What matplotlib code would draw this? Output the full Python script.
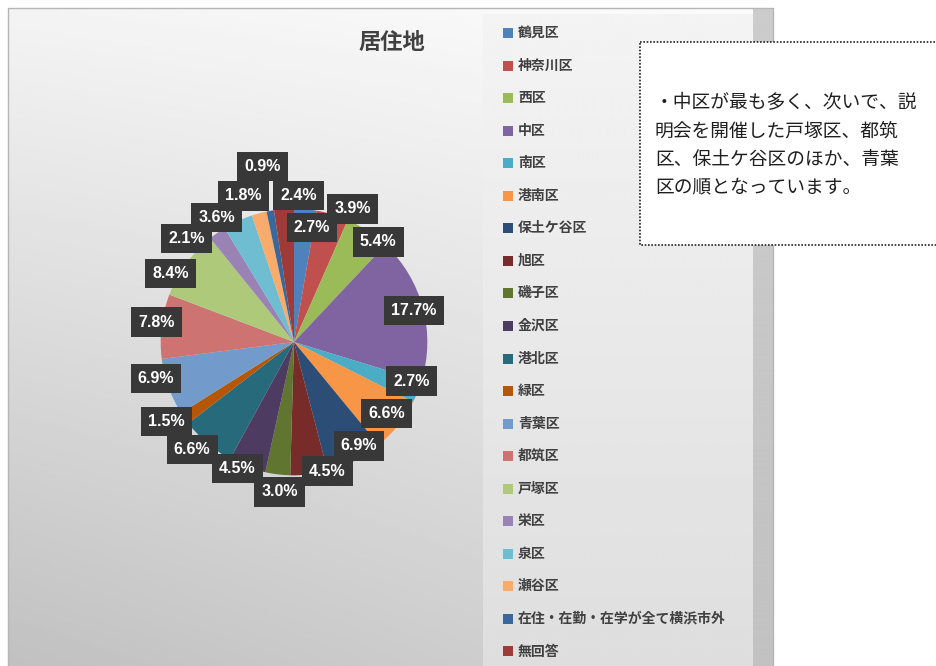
import matplotlib
matplotlib.use("Agg")
import matplotlib.pyplot as plt
import numpy as np
from matplotlib.patches import Rectangle

plt.rcParams['font.family'] = ['Noto Sans CJK JP', 'DejaVu Sans']

# 居住地の内訳 (%)
districts = ["鶴見区", "神奈川区", "西区", "中区", "南区", "港南区", "保土ケ谷区",
             "旭区", "磯子区", "金沢区", "港北区", "緑区", "青葉区", "都筑区",
             "戸塚区", "栄区", "泉区", "瀬谷区", "在住・在勤・在学が全て横浜市外", "無回答"]
shares = [2.7, 3.9, 5.4, 17.7, 2.7, 6.6, 6.9, 4.5, 3.0, 4.5,
          6.6, 1.5, 6.9, 7.8, 8.4, 2.1, 3.6, 1.8, 0.9, 2.4]
colors = ["#4F81BD", "#C0504D", "#9BBB59", "#8064A2", "#4BACC6", "#F79646",
          "#2C4D75", "#772C2A", "#5F7530", "#4D3B62", "#276A7C", "#B65708",
          "#729ACA", "#CD7371", "#AFC97A", "#9983B5", "#6FBDD1", "#F9AB6B",
          "#3A679C", "#9E3A38"]

# ラベルの位置調整 (角度のずれ, 半径の倍率)
label_turn = [4, 7, 6.5, 0, -3.5, -1, -5, -8, -1.5, 3.5, 3, 3, 5, 1.5, -7, -11, -7, -4, 0, 6]
label_dist = [0.87, 1.09, 0.98, 0.93, 0.93, 0.88, 0.92, 1.0, 1.13, 1.04,
              1.11, 1.13, 1.07, 1.04, 1.06, 1.12, 1.10, 1.16, 1.34, 1.10]

W, H = 937, 666
fig = plt.figure(figsize=(W / 100, H / 100), dpi=100)
bg = fig.add_axes([0, 0, 1, 1])

# 背景のグラデーション
yy, xx = np.mgrid[0:1:200j, 0:1:300j]
shade = 0.985 - 0.15 * yy - 0.05 * (1 - xx) * yy - 0.03 * (1 - xx)
bg.imshow(shade, cmap='gray', vmin=0, vmax=1, extent=(8, 773, 666, 8), aspect='auto')
panel = 0.955 - 0.085 * yy
bg.imshow(panel, cmap='gray', vmin=0, vmax=1, extent=(483, 753, 666, 14), aspect='auto')
strip = 0.80 - 0.04 * yy
bg.imshow(strip, cmap='gray', vmin=0, vmax=1, extent=(753, 773, 666, 8), aspect='auto')
bg.add_patch(Rectangle((8, 8), 765, 700, fill=False, ec="#b5b5b5", lw=1))
bg.set_xlim(0, W)
bg.set_ylim(H, 0)
bg.axis('off')

bg.text(392, 42, "居住地", fontsize=16, fontweight='bold', color='#404040',
        ha='center', va='center')

# 凡例
for i in range(len(districts)):
    y = 33 + i * 32.55
    bg.add_patch(Rectangle((503, y - 5), 10, 10, fc=colors[i], ec='none'))
    bg.text(518, y, districts[i], fontsize=10, fontweight='bold', color='#404040',
            ha='left', va='center')

# コメント欄
bg.add_patch(Rectangle((640, 42), 320, 203, fc='white', ec='#222222', lw=1.2,
                       ls=(0, (1, 1)), clip_on=False))
bg.text(655, 145, "・中区が最も多く、次いで、説\n明会を開催した戸塚区、都筑\n区、保土ケ谷区のほか、青葉\n区の順となっています。",
        fontsize=13.5, color='#1f1f1f', ha='left', va='center', linespacing=1.45)

# 円グラフ
cx, cy, half = 294, 342, 160
ax = fig.add_axes([(cx - half) / W, (H - cy - half) / H, 2 * half / W, 2 * half / H])
ax.pie(shares, colors=colors, startangle=90, counterclock=False, radius=1,
       wedgeprops=dict(linewidth=0))
ax.set_xlim(-1.2, 1.2)
ax.set_ylim(-1.2, 1.2)
ax.axis('off')

vals = np.array(shares)
mid = (np.cumsum(vals) - vals / 2) / vals.sum() * 360
for i in range(len(vals)):
    a = np.radians(mid[i] + label_turn[i])
    ax.text(label_dist[i] * np.sin(a), label_dist[i] * np.cos(a), f"{shares[i]:.1f}%",
            fontsize=11.5, fontweight='bold', color='white', family='Liberation Sans',
            ha='center', va='center',
            bbox=dict(boxstyle='square,pad=0.45', fc='#383838', ec='none'))

fig.savefig('out.png', dpi=100)
